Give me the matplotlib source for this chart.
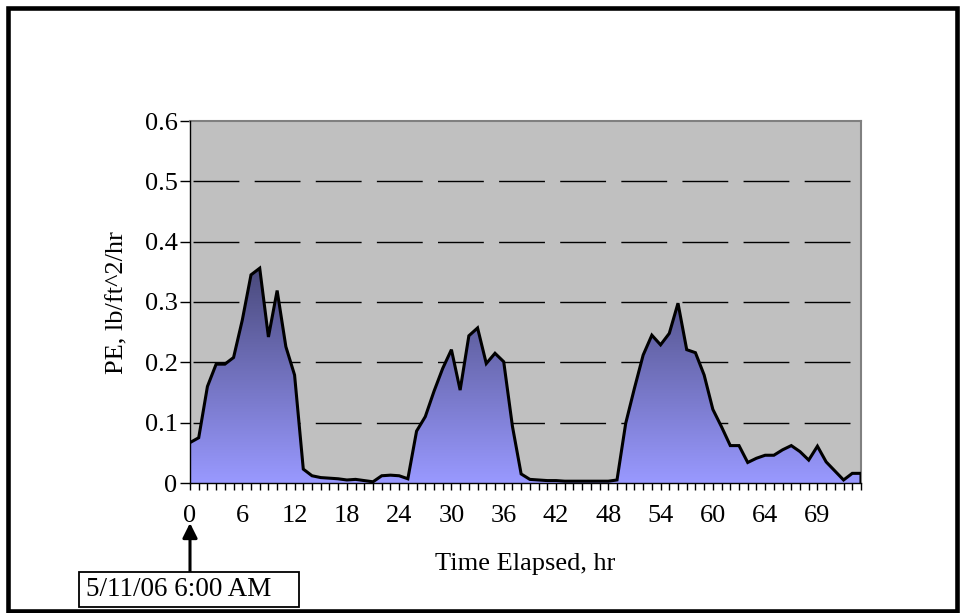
import matplotlib
matplotlib.use("Agg")
import matplotlib.pyplot as plt
import numpy as np
from matplotlib.colors import LinearSegmentedColormap
from matplotlib.patches import Polygon, Rectangle

plt.rcParams["font.family"] = ["Liberation Serif", "DejaVu Serif"]
plt.rcParams["lines.scale_dashes"] = False

# PE per hourly category (Excel category axis, 78 points)
pe = [0.067, 0.075, 0.160, 0.197, 0.197, 0.208, 0.270, 0.345, 0.356, 0.242,
      0.319, 0.226, 0.179, 0.023, 0.012, 0.009, 0.008, 0.007, 0.005, 0.006,
      0.004, 0.002, 0.012, 0.013, 0.012, 0.007, 0.086, 0.110, 0.152, 0.190,
      0.221, 0.154, 0.244, 0.257, 0.198, 0.215, 0.201, 0.094, 0.015, 0.006,
      0.005, 0.004, 0.004, 0.003, 0.003, 0.003, 0.003, 0.003, 0.003, 0.005,
      0.099, 0.157, 0.212, 0.245, 0.229, 0.248, 0.298, 0.221, 0.216, 0.179,
      0.122, 0.093, 0.062, 0.062, 0.034, 0.041, 0.046, 0.046, 0.055, 0.062,
      0.052, 0.038, 0.061, 0.035, 0.020, 0.005, 0.016, 0.016]
tick_labels = ["0", "6", "12", "18", "24", "30", "36", "42", "48", "54", "60", "64", "69"]
label_every = 6
y_ticks = [0, 0.1, 0.2, 0.3, 0.4, 0.5, 0.6]
y_tick_labels = ["0", "0.1", "0.2", "0.3", "0.4", "0.5", "0.6"]
start_note = "5/11/06 6:00 AM"

W, H = 964, 613
fig = plt.figure(figsize=(W / 100, H / 100), dpi=100)
fig.patch.set_facecolor("white")
ax = fig.add_axes([190 / W, (H - 483) / H, (861 - 190) / W, (483 - 121) / H])
ax.set_facecolor("#C0C0C0")

n = len(pe)
x = np.arange(n)
y = np.array(pe)

# dashed grid lines behind area
for g in y_ticks[1:-1]:
    ax.axhline(g, color="black", lw=1.0, linestyle=(41.8, (33, 11)), zorder=1)

# gradient-filled area
verts = [(0, 0)] + list(zip(x, y)) + [(n - 1, 0)]
poly = Polygon(verts, closed=True, facecolor="none", edgecolor="none", zorder=2)
ax.add_patch(poly)
cmap = LinearSegmentedColormap.from_list("pe", ["#9999FF", "#4A4A7C"])
grad = np.linspace(0, 1, 256).reshape(-1, 1)
im = ax.imshow(grad, cmap=cmap, origin="lower", aspect="auto",
               extent=[0, n - 1, 0, y.max()], zorder=2, interpolation="bilinear")
im.set_clip_path(poly)
ax.plot(list(x) + [n - 1], list(y) + [0], color="black", lw=2.2, zorder=3,
        solid_joinstyle="miter")

ax.set_xlim(0, n - 1)
ax.set_ylim(0, 0.6)
ax.set_xticks(x)
ax.set_xticklabels([tick_labels[i // label_every] if i % label_every == 0 else "" for i in x])
ax.set_yticks(y_ticks)
ax.set_yticklabels(y_tick_labels)
ax.tick_params(axis="x", length=5, width=1, pad=11, labelsize=19, direction="out")
ax.tick_params(axis="y", length=7, width=1, pad=2, labelsize=19, direction="out")

for s in ["top", "right"]:
    ax.spines[s].set_color("#808080")
    ax.spines[s].set_linewidth(1.5)
for s in ["left", "bottom"]:
    ax.spines[s].set_color("black")
    ax.spines[s].set_linewidth(1.0)
    ax.spines[s].set_zorder(4)

fig.text(117 / W, 1 - 303 / H, "PE, lb/ft^2/hr", rotation=90, ha="center",
         va="center", fontsize=19)
fig.text(525 / W, 1 - 564 / H, "Time Elapsed, hr", ha="center", va="center",
         fontsize=19)

# start-time callout: box, text and arrow pointing at hour 0
fig.add_artist(Rectangle((79 / W, (H - 607) / H), 220 / W, 35 / H,
                         transform=fig.transFigure, fc="white", ec="black", lw=1.3))
fig.text(86 / W, 1 - 590 / H, start_note, ha="left", va="center", fontsize=19.5)
ax.annotate("", xy=(190, H - 523), xycoords="figure pixels",
            xytext=(190, H - 572), textcoords="figure pixels",
            arrowprops=dict(arrowstyle="-|>", color="black", lw=2.2,
                            mutation_scale=22, shrinkA=0, shrinkB=0))

fig.add_artist(Rectangle((7.5 / W, 2.5 / H), (957 - 7.5) / W, 603 / H,
                         transform=fig.transFigure, fill=False, ec="black", lw=3.3))

plt.savefig("out.png", dpi=100)
plt.close()
